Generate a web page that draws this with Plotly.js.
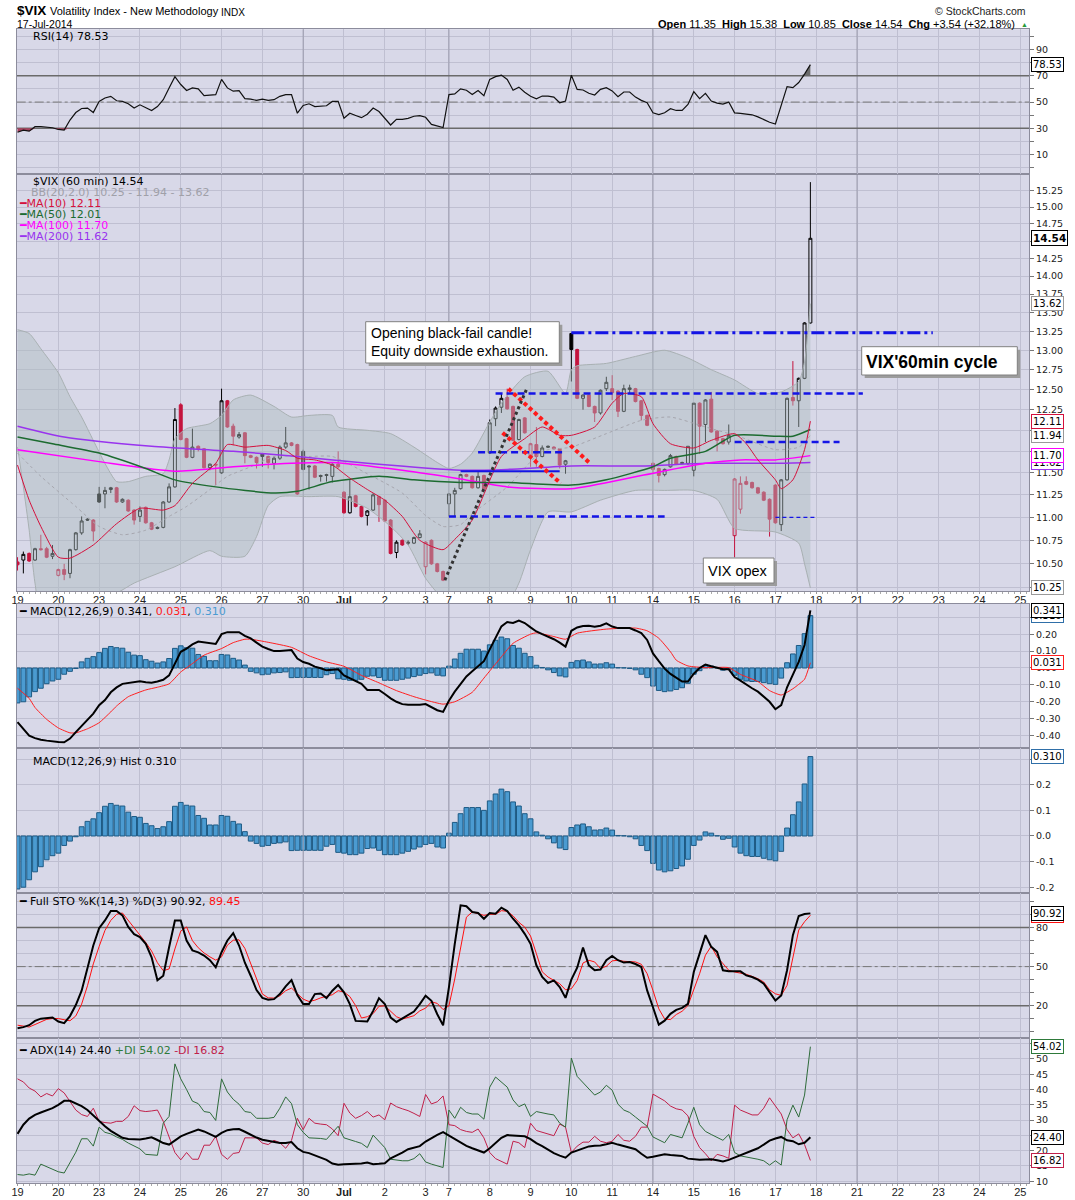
<!DOCTYPE html>
<html><head><meta charset="utf-8">
<script src="https://cdn.plot.ly/plotly-3.0.1.min.js"></script>
<style>html,body{margin:0;padding:0;background:#fff}#chart{width:1075px;height:1200px}</style>
</head><body><div id="chart"></div>
<script>
// ===================== DATA =====================
// x = hourly bar index (7 bars per session, Jul 3 half session = 4 bars)
const dayIdx    = [0,7,14,21,28,35,42,49,56,63,70,74,81,88,95,102,109,116,123,130,137,144,151,158,165,172];
const dayLabels = ['19','20','23','24','25','26','27','30','<b>Jul</b>','2','3','7','8','9','10','11','14','15','16','17','18','21','22','23','24','25'];
const weekStarts = [49,74,109,144];

const open = [
 10.52,10.54,10.61,10.54,10.66,10.66,10.58,
 10.38,10.44,10.40,10.65,10.83,10.98,10.97,
 11.26,11.26,11.31,11.33,11.17,11.19,11.08,
 11.01,11.11,10.94,10.89,10.89,11.17,11.34,
 12.31,11.90,11.68,11.81,11.78,11.56,11.60,
 11.50,12.36,12.05,11.92,11.97,11.70,11.68,
 11.72,11.69,11.61,11.67,11.80,11.85,11.83,
 11.75,11.58,11.58,11.47,11.48,11.46,11.60,
 11.28,11.05,11.24,11.12,11.02,11.08,11.23,
 11.19,10.97,10.62,10.75,10.73,10.72,10.78,
 10.47,10.75,10.50,10.42,
 11.15,11.26,11.32,11.48,11.46,11.33,11.47,
 11.73,12.14,12.28,12.40,12.29,11.89,12.15,
 11.69,11.83,11.69,11.81,11.80,11.78,11.60,
 13.22,13.01,12.39,12.43,12.29,12.21,12.51,
 12.51,12.48,12.23,12.50,12.51,12.36,12.18,
 11.61,11.55,11.48,11.57,11.69,11.62,11.61,
 11.53,12.33,12.07,12.38,11.99,11.90,11.86,
 10.80,11.09,11.40,11.39,11.33,11.28,11.20,
 11.36,10.92,11.42,12.40,12.36,12.64,13.36];
const high = [
 10.57,10.63,10.62,10.67,10.81,10.68,10.70,
 10.45,10.50,10.66,10.84,11.01,10.99,10.98,
 11.34,11.34,11.34,11.34,11.21,11.20,11.09,
 11.12,11.12,10.95,10.90,11.18,11.38,12.27,
 12.33,11.91,12.02,11.82,11.79,11.61,11.61,
 12.51,12.37,12.08,11.98,11.98,11.71,11.69,
 11.73,11.70,11.69,11.82,12.04,11.86,11.84,
 11.77,11.59,11.59,11.48,11.49,11.61,11.75,
 11.29,11.42,11.25,11.13,11.08,11.27,11.24,
 11.20,10.98,10.75,10.76,10.75,10.79,10.86,
 10.74,10.76,10.51,10.43,
 11.27,11.33,11.49,11.49,11.47,11.51,11.48,
 12.13,12.29,12.45,12.51,12.30,12.14,12.16,
 11.85,12.04,11.82,11.82,11.81,11.79,11.65,
 13.23,13.02,12.44,12.44,12.30,12.50,12.66,
 12.68,12.49,12.56,12.56,12.52,12.37,12.19,
 11.62,11.56,11.55,11.72,11.70,11.63,11.81,
 12.33,12.34,12.38,12.47,12.00,11.91,12.07,
 11.44,11.46,11.46,11.40,11.34,11.29,11.21,
 11.37,11.43,12.40,12.86,12.65,13.37,15.38];
const low = [
 10.43,10.40,10.52,10.53,10.64,10.56,10.55,
 10.37,10.33,10.35,10.64,10.81,10.96,10.74,
 11.16,11.10,11.27,11.16,11.16,11.06,10.92,
 10.95,10.93,10.86,10.87,10.88,11.16,11.33,
 11.88,11.67,11.67,11.75,11.55,11.53,11.36,
 11.49,12.03,11.82,11.90,11.61,11.67,11.55,
 11.57,11.55,11.54,11.65,11.78,11.81,11.25,
 11.53,11.31,11.44,11.40,11.40,11.39,11.55,
 11.04,11.04,11.11,11.00,10.91,11.07,10.95,
 10.95,10.60,10.56,10.69,10.70,10.71,10.77,
 10.39,10.49,10.41,10.32,
 11.01,11.01,11.31,11.45,11.32,11.32,11.31,
 11.72,12.05,12.21,12.25,11.87,11.88,11.96,
 11.57,11.57,11.68,11.79,11.77,11.55,11.49,
 12.60,12.38,12.25,12.28,12.10,12.19,12.48,
 12.37,12.16,12.22,12.45,12.34,12.12,12.05,
 11.49,11.39,11.46,11.56,11.59,11.60,11.59,
 11.46,11.72,11.86,11.97,11.75,11.83,11.83,
 10.57,11.04,11.36,11.32,11.26,11.18,10.79,
 10.93,10.85,11.41,12.30,12.04,12.63,13.35];
const close = [
 10.49,10.60,10.53,10.66,10.65,10.57,10.61,
 10.44,10.39,10.65,10.83,10.96,10.97,10.85,
 11.17,11.30,11.33,11.17,11.20,11.07,10.97,
 11.08,10.94,10.87,10.88,11.17,11.34,12.13,
 11.89,11.68,11.80,11.78,11.56,11.60,11.59,
 12.36,12.04,11.93,11.95,11.70,11.68,11.62,
 11.69,11.62,11.67,11.80,11.85,11.82,11.26,
 11.54,11.57,11.45,11.46,11.47,11.60,11.57,
 11.05,11.23,11.12,11.01,11.07,11.25,11.14,
 10.96,10.61,10.73,10.70,10.72,10.78,10.82,
 10.73,10.50,10.42,10.33,
 11.26,11.30,11.48,11.46,11.33,11.46,11.32,
 12.09,12.27,12.39,12.26,11.88,12.13,11.97,
 11.84,11.69,11.79,11.80,11.78,11.59,11.64,
 13.01,12.39,12.43,12.29,12.21,12.49,12.59,
 12.46,12.23,12.51,12.52,12.35,12.18,12.06,
 11.54,11.47,11.54,11.70,11.60,11.61,11.81,
 12.33,12.05,12.37,11.98,11.88,11.84,11.94,
 11.43,11.38,11.37,11.33,11.27,11.19,10.98,
 10.94,11.42,12.39,12.36,12.64,13.36,14.54];

// Overlays (sampled at bar indices)
const ma10X = [0,2,4,7,9,13,17,21,25,27,30,34,36,39,43,46,48,51,54,57,60,63,66,69,73,75,78,83,87,90,93,95,99,102,104,107,109,112,116,119,123,125,127,130,131,133,135,136];
const ma10Y = [11.59,11.19,10.90,10.57,10.56,10.70,10.93,11.10,11.08,11.13,11.38,11.61,11.83,11.80,11.82,11.76,11.67,11.65,11.59,11.44,11.31,11.19,11.01,10.75,10.65,10.76,10.97,11.69,11.90,12.04,11.94,11.94,12.04,12.33,12.45,12.41,12.08,11.84,11.79,11.88,11.96,11.84,11.65,11.42,11.32,11.42,11.77,12.11];
const ma50X = [0,6,14,22,27,34,44,48,54,62,68,76,84,95,101,109,112,118,123,130,133,136];
const ma50Y = [11.92,11.84,11.73,11.55,11.42,11.34,11.27,11.29,11.40,11.46,11.42,11.39,11.39,11.36,11.42,11.57,11.67,11.75,11.94,11.93,11.93,12.01];
const ma100X = [0,14,27,37,47,54,66,76,84,95,107,118,124,130,136];
const ma100Y = [11.77,11.63,11.52,11.57,11.61,11.62,11.53,11.43,11.34,11.32,11.47,11.61,11.65,11.65,11.70];
const ma200X = [0,8,23,37,48,60,76,84,95,107,118,130,136];
const ma200Y = [12.05,11.92,11.81,11.75,11.69,11.61,11.53,11.54,11.58,11.58,11.61,11.61,11.62];
const bbUpX = [0,2,4,7,9,11,13,15,17,19,22,25,26,27,29,33,35,37,40,44,47,50,54,55,60,64,68,72,74,76,78,81,83,87,91,94,95,96,101,106,111,115,119,123,127,131,134,135,136];
const bbUpY = [13.27,13.22,13.02,12.71,12.41,12.16,11.88,11.61,11.40,11.40,11.46,11.49,11.65,11.90,12.02,12.08,12.18,12.37,12.43,12.29,12.16,12.18,12.18,12.04,12.00,11.96,11.80,11.62,11.55,11.60,11.73,12.10,12.33,12.66,12.73,12.45,12.75,12.80,12.83,12.92,13.00,12.90,12.75,12.62,12.45,12.47,12.60,12.85,13.62];
const bbLoX = [0,1,2,3,4,17,20,27,33,35,39,41,43,45,50,55,60,64,67,70,72,74,84,86,88,91,95,100,106,111,116,120,123,130,134,135,136];
const bbLoY = [11.80,11.34,10.86,10.30,10.05,10.20,10.30,10.47,10.64,10.58,10.58,10.79,11.13,11.23,11.23,11.23,11.10,10.90,10.70,10.35,10.20,10.10,10.10,10.30,10.65,11.06,11.06,11.19,11.30,11.30,11.30,11.20,10.88,10.84,10.72,10.50,10.25];
const bbMidX = [0,4,10,14,18,22,26,29,33,36,40,44,50,54,60,66,70,73,76,78,84,90,95,101,107,112,118,124,130,134,136];
const bbMidY = [11.73,11.46,11.12,10.90,10.81,10.86,11.01,11.12,11.31,11.46,11.57,11.69,11.69,11.69,11.49,11.27,11.02,10.90,10.92,11.04,11.34,11.75,11.80,11.96,12.12,12.16,12.04,11.92,11.77,11.80,11.94];

const rsi = [
 27,28.6,27.8,31.2,31.2,31.0,30.4,
 29.1,28.6,36.3,42.0,45.1,45.4,42.0,
 50.5,53.1,54.4,51.0,50.5,48.7,45.4,
 47.9,45.4,43.5,46.6,51.8,60.8,69.4,
 63.4,58.8,60.8,60.1,54.9,55.2,55.7,
 67.3,60.8,58.3,58.8,52.6,52.3,51.3,
 52.3,51.3,51.8,54.4,55.7,55.7,41.5,
 47.4,48.7,46.6,46.9,47.2,50.5,50.5,
 37.6,41.5,39.8,38.1,40.7,45.4,42.8,
 37.6,32.5,36.8,36.8,37.6,39.2,39.7,
 38.4,33.0,31.9,30.6,
 55.7,56.2,60.1,59.0,55.7,58.8,54.9,
 67.3,69.4,70.6,67.3,59.0,61.4,57.5,
 54.4,52.5,54.6,54.6,53.8,49.5,50.8,
 70.5,59.7,59.2,56.7,55.4,59.7,61.0,
 58.5,54.1,57.7,57.7,53.8,51.3,49.5,
 41.8,40.5,41.8,44.9,43.6,43.6,48.2,
 57.9,52.6,56.7,50.8,49.2,48.5,50.0,
 41.8,41.3,41.0,40.3,38.7,36.5,34.6,
 33.3,47.4,61.8,61.0,64.9,71.3,78.53];

const macd = [
 -0.32,-0.36,-0.40,-0.415,-0.425,-0.43,-0.436,
 -0.438,-0.44,-0.418,-0.38,-0.344,-0.31,-0.27,
 -0.22,-0.19,-0.144,-0.115,-0.094,-0.09,-0.086,
 -0.078,-0.085,-0.088,-0.08,-0.07,-0.044,0.026,
 0.096,0.115,0.14,0.156,0.152,0.146,0.142,
 0.2,0.212,0.212,0.212,0.19,0.175,0.15,
 0.126,0.112,0.1,0.1,0.103,0.106,0.056,
 0.035,0.025,0.008,-0.002,-0.014,-0.01,-0.008,
 -0.044,-0.062,-0.08,-0.094,-0.13,-0.13,-0.13,
 -0.154,-0.18,-0.2,-0.214,-0.218,-0.22,-0.218,
 -0.214,-0.232,-0.25,-0.26,
 -0.194,-0.14,-0.094,-0.05,-0.02,0.01,0.04,
 0.11,0.18,0.246,0.272,0.266,0.28,0.266,
 0.24,0.216,0.2,0.185,0.17,0.15,0.126,
 0.22,0.24,0.248,0.25,0.244,0.25,0.264,
 0.245,0.236,0.236,0.236,0.222,0.206,0.166,
 0.086,0.04,-0.004,-0.035,-0.06,-0.08,-0.08,
 -0.034,0.0,0.02,0.01,0.0,-0.008,-0.008,
 -0.054,-0.075,-0.1,-0.12,-0.14,-0.17,-0.2,
 -0.244,-0.22,-0.114,-0.04,0.036,0.136,0.341];
const sigX = [0,2,3,5,7,9,10,12,14,16,17,19,22,24,26,28,30,32,35,37,39,40,43,47,50,53,56,59,62,65,68,70,73,75,78,80,83,85,88,89,92,94,96,101,106,108,110,112,113,115,118,122,124,127,129,131,133,134,135,136];
const sigY = [-0.12,-0.18,-0.234,-0.304,-0.355,-0.384,-0.384,-0.36,-0.324,-0.26,-0.225,-0.17,-0.13,-0.114,-0.094,-0.024,0.026,0.076,0.115,0.15,0.17,0.17,0.152,0.122,0.072,0.036,0.01,-0.044,-0.088,-0.134,-0.17,-0.19,-0.214,-0.2,-0.144,-0.06,0.066,0.146,0.2,0.208,0.186,0.17,0.206,0.23,0.236,0.22,0.176,0.096,0.046,0.012,0.002,0.002,-0.038,-0.08,-0.134,-0.16,-0.123,-0.097,-0.067,0.031];
const hist = [
 -0.207,-0.2,-0.171,-0.14,-0.12,-0.093,-0.077,
 -0.067,-0.037,-0.02,-0.003,0.036,0.057,0.067,
 0.091,0.116,0.127,0.12,0.117,0.093,0.076,
 0.073,0.049,0.04,0.029,0.036,0.056,0.116,
 0.131,0.12,0.117,0.08,0.069,0.043,0.043,
 0.08,0.077,0.057,0.047,0.017,-0.02,-0.029,
 -0.04,-0.037,-0.029,-0.027,-0.023,-0.057,-0.056,
 -0.056,-0.056,-0.056,-0.056,-0.04,-0.033,-0.064,
 -0.067,-0.073,-0.073,-0.067,-0.049,-0.047,-0.056,
 -0.073,-0.073,-0.073,-0.067,-0.06,-0.051,-0.043,
 -0.033,-0.029,-0.043,-0.047,
 0.011,0.053,0.087,0.111,0.111,0.111,0.1,
 0.137,0.164,0.183,0.173,0.133,0.117,0.087,
 0.067,0.016,0.003,-0.011,-0.027,-0.047,-0.053,
 0.033,0.043,0.047,0.036,0.023,0.024,0.031,
 0.023,0.002,0.001,-0.003,-0.011,-0.037,-0.057,
 -0.107,-0.133,-0.14,-0.136,-0.127,-0.117,-0.091,
 -0.037,-0.016,0.016,0.011,0.001,-0.013,-0.009,
 -0.043,-0.067,-0.077,-0.08,-0.08,-0.087,-0.093,
 -0.097,-0.06,0.031,0.083,0.133,0.203,0.31];

const stoK = [
 2.6,3.5,5.0,8.3,10.0,10.6,10.9,
 7.8,6.5,12,20.5,31.5,49.5,66.2,
 79.6,85.5,92.7,92.7,89.4,80.5,75,
 72.7,67.5,57.2,39.5,43.0,64.9,85.5,
 85.5,70,62.5,61,58.5,55,49.5,
 61.1,70.1,75.8,66.2,53,43,32,
 26,24.5,25,28.9,34.8,39.7,28.1,
 21.2,21.2,28.9,29.4,25.8,31.5,35.8,
 30.2,21.2,8.3,8,7.8,16.0,25.8,
 21.2,10.9,7.5,10.3,12.9,15.5,21.2,
 27.6,23.7,13.4,4.9,
 34.0,67.5,97.1,96.4,92.0,91.2,86.8,
 91.2,90.7,95.3,92.7,86.8,81.7,75.2,
 67.5,51,42,37.4,39.4,34.3,26.0,
 40.0,49.2,64.7,51.0,47.2,47.7,54.9,
 58.2,54.9,53.1,53.5,52,49.7,31.7,
 18.8,5.4,8.5,13.7,16.8,18.3,21.4,
 45.9,60.0,74.2,65.2,61.3,47.2,46.4,
 46.4,46.4,43.3,42.0,40.0,36.9,30.4,
 24.0,27.9,47.2,74.2,88.9,90.4,90.92];
const stoD = [
 5.0,4.2,3.6,5.5,7.5,9.5,10.1,
 10.1,9.2,8.4,12.1,21.2,35.3,52.1,
 65.5,77.8,85.5,90.2,91.2,85.5,80,
 75,68.5,62,53,46.9,48.2,63.6,
 77.3,80.5,70,64.5,60.5,57.5,55,
 57.5,66.5,70.3,70.6,64,52,40,
 29,26,25.8,27.6,31.5,33.5,29.5,
 25,23.2,24.2,26,27.5,28.4,31.5,
 30.5,27,20,10.5,11.5,13.9,19.5,
 19.9,16,11.5,9.7,10.9,12.3,16,
 18.1,23,21.7,17,
 19.9,40.5,65,88,92,90.5,89.4,
 90.2,90.2,93.0,92.5,89,84,80.4,
 73.5,60,46,42,39.4,36.9,32.2,
 33.0,39.4,52.8,54.9,53.6,48.5,50.3,
 54.4,54.9,54.1,53.6,53.6,51.8,44.6,
 31.7,17.6,9.8,9.3,13.2,15.7,20.1,
 31.7,44.6,58.8,65.7,57.5,52.3,47.2,
 45.9,45.1,44.1,42.5,40.7,38.2,32.2,
 29.1,27.9,35.6,57.5,78.1,84.5,89.45];

const adx = [
 25.5,28.5,30.5,31.7,32.5,33.3,33.9,
 35,36.3,36.3,35.5,34.6,33.3,31.5,
 29.8,28,26.5,25.3,24.2,23.8,23.7,
 23.7,24,24.4,23.5,22.5,22.0,23.5,
 24.7,25.5,26.3,26.9,26.3,25.3,24.5,
 25.8,26.7,27,27.1,26.2,25.2,24.3,
 23.6,23.2,22.8,22.5,22.5,22.8,20.8,
 19.6,19.2,18.5,17.8,17,15.8,15.4,
 15.6,15.6,15.6,15.8,16.1,15.6,15.7,
 15.9,17.5,18.4,19.4,20.5,20.9,21.5,
 23,24.2,25.2,26.1,
 25,23.7,22.8,21.6,20.8,20,19.4,
 20.8,22.6,24.2,25.1,25,24.9,24.7,
 23.8,22.5,21.5,20.3,19.2,18.4,17.7,
 19.4,20.1,20.7,21.4,21.6,21.7,22.1,
 22.6,22,21.5,21.2,20.5,19,17.7,
 18,18.5,18.8,18.6,18.4,18.3,17.4,
 17.2,17.0,17.1,17.2,16.9,16.5,17,
 17.8,18.5,19.3,20,20.8,22,23.3,
 24,24.5,23.4,23.1,22.1,22.6,24.40];
const plusDI = [
 12.2,12.0,12.4,12.0,15.6,14.8,14.0,
 13.1,12.7,16.0,19.5,23.9,23.9,21.5,
 27.7,26.0,25.5,24.5,23.7,22.5,21.5,
 20.6,18.8,18.6,18.5,29.0,31.2,48.4,
 43.5,40,36.2,35.4,32.8,32.5,29.9,
 43.5,39.2,36.8,35.2,32.8,32.5,30.6,
 30.6,30.6,30.9,33.9,37.6,35.4,28.5,
 26.0,24.2,24.2,24.0,23.7,25.8,28.0,
 24.2,23.7,23,22.4,21.0,25.1,23.1,
 21.0,17.2,16.9,16.7,16.7,17.4,19.0,
 16.3,15.6,15.0,14.5,
 33.3,30.6,34.2,32.5,32.0,32.0,30.3,
 40.8,44.1,42.3,40.8,36.6,34.4,35.3,
 31.2,32.8,32.3,32.0,31.7,29.0,27.7,
 50.3,44.3,42.2,40.2,38.2,39.2,41.4,
 39.8,35.2,33.3,32.5,31,29.6,28.0,
 24.5,23.5,22.6,25.3,24.7,24.2,29.0,
 34.2,28.5,26.3,25.3,24.4,23.4,25.3,
 19.4,18.3,18.0,17.7,17.2,16.7,15.3,
 16.7,15.3,30.1,34.9,31.0,38.2,54.02];
const minusDI = [
 43.5,42.5,40.5,39.5,37.6,38.7,37.9,
 40.3,38.9,36.0,33.3,31.8,31.2,33.9,
 29.6,29.2,29.0,29.6,29.6,31.2,34.7,
 33.1,32.8,33,33.3,29.6,24.7,19.4,
 17.0,19.4,17.2,17.2,21.8,21.8,24.7,
 18.8,17.2,19.1,19.4,24.2,24.2,24.2,
 22.5,22.0,23.4,22.6,20.8,23.4,30.6,
 26.9,30.6,29.0,28.7,28.5,27.1,24.9,
 35.5,32.3,30.6,31.5,32.8,31.0,31.7,
 30.1,35.6,34.4,33.7,33.1,32.2,31.2,
 38.4,35.3,36.0,37.9,
 28.5,28.2,26.9,26.3,26.0,27.1,24.2,
 19.4,17.4,16.5,15.6,23.1,22.6,21.0,
 29.0,26.6,26,25.5,24.9,28.7,27.7,
 19.4,21.5,22.8,22.8,24.7,23.1,22.6,
 23.1,25.3,23.4,23.1,24.7,27.7,27.7,
 38.5,37.5,36.3,34.6,33.7,33.3,31.4,
 24.7,21.0,19.0,16.7,18.8,18.3,17.5,
 34.9,33.3,32.5,31.7,31.7,33.9,37.3,
 34.6,32.0,26.9,24.2,25.5,22.0,16.82];

// Last-value tags shown on the right edge
const lastVals = {rsi:78.53, close:14.54, bbUp:13.62, ma10:12.11, ma50:12.01, bbMid:11.94, ma100:11.70, ma200:11.62, bbLo:10.25,
  macd:0.341, sig:0.031, hist:0.310, k:90.92, d:89.45, adx:24.40, pdi:54.02, mdi:16.82};

// Axis tick values
const priceTicks = [10.25,10.5,10.75,11,11.25,11.5,11.75,12,12.25,12.5,12.75,13,13.25,13.5,13.75,14,14.25,14.5,14.75,15,15.25];
const macdTicks = [-0.4,-0.3,-0.2,-0.1,0,0.1,0.2,0.3];
const histTicks = [-0.2,-0.1,0,0.1,0.2,0.3];
const tenTicks = [0,10,20,30,40,50,60,70,80,90,100];
const adxTicks = [10,15,20,25,30,35,40,45,50,55];

// Hand-drawn annotation lines on the price panel (bar index / price)
const drawn = [
 {x:[95,157], y:[13.23,13.23], c:'#1414e6', w:3,   d:'13px,4px,3px,4px'},
 {x:[82,145], y:[12.45,12.45], c:'#1414e6', w:2.5, d:'7px,4px'},
 {x:[79,94],  y:[11.74,11.74], c:'#1414e6', w:2.5, d:'7px,4px'},
 {x:[76,93],  y:[11.52,11.52], c:'#1414e6', w:2,   d:'solid'},
 {x:[74,111], y:[11.01,11.01], c:'#1414e6', w:2.5, d:'7px,4px'},
 {x:[123,141],y:[11.86,11.86], c:'#1414e6', w:2.5, d:'7px,4px'},
 {x:[130,137],y:[11.00,11.00], c:'#1414e6', w:1.2, d:'4px,3px'},
 {x:[84.2,98.2], y:[12.51,11.61], c:'#ff1a1a', w:4, d:'4px,3px'},
 {x:[83.2,93.2], y:[11.97,11.38], c:'#ff1a1a', w:4, d:'4px,3px'},
 {x:[73.3,87.3], y:[10.33,12.50], c:'#333333', w:3, d:'3px,3px'}
];

// ===================== CHART =====================
const W = 1075, H = 1200;
const GRID = '#bfbfd1', BORDER = '#8c8c9c', BG = '#d8d8e8';
const FONT = 'DejaVu Sans, Verdana, sans-serif';
const ARIAL = 'Liberation Sans, Arial, sans-serif';
const X0 = 16.7, X1 = 1029;
const XR = [-0.14, 173.5];
const xDomain = [X0 / W, X1 / W];
const P = {rsi:[29.2,173.5], price:[173.5,591], macd:[603.6,748.4], hist:[748.4,892.7], sto:[892.7,1038.2], adx:[1038.2,1183.4]};
const dom = p => [1 - p[1] / H, 1 - p[0] / H];
const N = close.length;
const bars = Array.from({length: N}, (_, i) => i);

function xax(anchor, labels) {
  const a = {domain: xDomain, range: XR, anchor, tickmode: 'array', tickvals: dayIdx, ticktext: dayLabels,
    showticklabels: labels, showgrid: true, gridcolor: GRID, gridwidth: 1, zeroline: false,
    showline: true, mirror: true, linecolor: BORDER, linewidth: 1,
    ticks: labels ? 'outside' : '', ticklen: labels ? 2 : 0, tickcolor: '#999',
    tickfont: {family: ARIAL, size: 11, color: '#222'}, fixedrange: true};
  if (labels) {
    a.minor = {ticks: 'outside', ticklen: 2, tick0: 0, dtick: 1, tickcolor: '#aaa', showgrid: false};
    a.ticklabelstandoff = anchor === 'y' ? -3 : -4;
  }
  return a;
}
function yax(p, anchor, range, tickvals, ticktext, extra) {
  return Object.assign({domain: dom(p), anchor, range, side: 'right', tickmode: 'array', tickvals, ticktext,
    showgrid: true, gridcolor: GRID, gridwidth: 1, zeroline: false, showline: true, mirror: true,
    linecolor: BORDER, linewidth: 1, ticks: 'outside', ticklen: 4, tickcolor: '#777',
    tickfont: {family: FONT, size: 9.5, color: '#222'}, fixedrange: true}, extra || {});
}

const traces = [];
const subplots = [['x','y',[10,16]],['x2','y2',[-10,110]],['x3','y3',[-1,1]],['x4','y4',[-1,1]],['x5','y5',[-10,110]],['x6','y6',[0,70]]];
// darker weekly separators (drawn first, under everything)
subplots.forEach(([xr, yr, ext]) => {
  const xs = [], ys = [];
  weekStarts.forEach(w => { xs.push(w, w, null); ys.push(ext[0], ext[1], null); });
  traces.push({type:'scatter', mode:'lines', x:xs, y:ys, xaxis:xr, yaxis:yr, line:{color:'#9b9bad', width:1}, hoverinfo:'skip', connectgaps:false});
});
function refLine(xr, yr, v, dash, color, width) {
  traces.push({type:'scatter', mode:'lines', x:XR, y:[v, v], xaxis:xr, yaxis:yr, line:{color, width, dash}, hoverinfo:'skip'});
}

// Bollinger band
traces.push({type:'scatter', mode:'lines', x:bbUpX, y:bbUpY, xaxis:'x', yaxis:'y', line:{color:'#a8b0b2', width:1, shape:'spline', smoothing:0.6}, hoverinfo:'skip'});
traces.push({type:'scatter', mode:'lines', x:bbLoX, y:bbLoY, xaxis:'x', yaxis:'y', line:{color:'#a8b0b2', width:1, shape:'spline', smoothing:0.6}, fill:'tonexty', fillcolor:'rgba(172,188,190,0.45)', hoverinfo:'skip'});
traces.push({type:'scatter', mode:'lines', x:bbMidX, y:bbMidY, xaxis:'x', yaxis:'y', line:{color:'#a6a6ae', width:1, dash:'dot', shape:'spline', smoothing:0.6}, hoverinfo:'skip'});

// Candles: hollow = close >= open ; red = close < previous close
const groups = {hb:[], hr:[], fb:[], fr:[]};
for (let i = 0; i < N; i++) {
  const up = close[i] >= open[i];
  const prev = i > 0 ? close[i-1] : open[i];
  const red = close[i] < prev;
  groups[(up ? 'h' : 'f') + (red ? 'r' : 'b')].push(i);
}
const RED = '#c4143e';
const cstyle = {hb:['#000', 'rgba(0,0,0,0)'], hr:[RED, 'rgba(0,0,0,0)'], fb:['#000','#000'], fr:[RED, RED]};
Object.keys(groups).forEach(k => {
  const idx = groups[k];
  if (!idx.length) return;
  const st = {line:{color:cstyle[k][0], width:1}, fillcolor:cstyle[k][1]};
  traces.push({type:'candlestick', x:idx, open:idx.map(i=>open[i]), high:idx.map(i=>high[i]), low:idx.map(i=>low[i]), close:idx.map(i=>close[i]),
    xaxis:'x', yaxis:'y', increasing:st, decreasing:st, whiskerwidth:0, hoverinfo:'skip'});
});
// Moving averages
traces.push({type:'scatter', mode:'lines', x:ma200X, y:ma200Y, xaxis:'x', yaxis:'y', line:{color:'#9933ee', width:1.5, shape:'spline', smoothing:0.6}, hoverinfo:'skip'});
traces.push({type:'scatter', mode:'lines', x:ma100X, y:ma100Y, xaxis:'x', yaxis:'y', line:{color:'#ff00ff', width:1.5, shape:'spline', smoothing:0.6}, hoverinfo:'skip'});
traces.push({type:'scatter', mode:'lines', x:ma50X, y:ma50Y, xaxis:'x', yaxis:'y', line:{color:'#1c6b30', width:1.5, shape:'spline', smoothing:0.6}, hoverinfo:'skip'});
traces.push({type:'scatter', mode:'lines', x:ma10X, y:ma10Y, xaxis:'x', yaxis:'y', line:{color:'#d4103c', width:1, shape:'spline', smoothing:0.6}, hoverinfo:'skip'});
// Drawn lines
drawn.forEach(d => traces.push({type:'scatter', mode:'lines', x:d.x, y:d.y, xaxis:'x', yaxis:'y', line:{color:d.c, width:d.w, dash:d.d}, hoverinfo:'skip'}));

// RSI reference lines + fills beyond 30 / 70
refLine('x2','y2',70,'solid','#6a6a6a',1.5); refLine('x2','y2',30,'solid','#6a6a6a',1.5); refLine('x2','y2',50,'dashdot','#777',1);
traces.push({type:'scatter', mode:'lines', x:bars, y:bars.map(()=>30), xaxis:'x2', yaxis:'y2', line:{width:0, color:'rgba(0,0,0,0)'}, hoverinfo:'skip'});
traces.push({type:'scatter', mode:'lines', x:bars, y:rsi.map(v=>Math.min(v,30)), xaxis:'x2', yaxis:'y2', line:{width:0, color:'rgba(0,0,0,0)'}, fill:'tonexty', fillcolor:'#a8405e', hoverinfo:'skip'});
traces.push({type:'scatter', mode:'lines', x:bars, y:bars.map(()=>70), xaxis:'x2', yaxis:'y2', line:{width:0, color:'rgba(0,0,0,0)'}, hoverinfo:'skip'});
traces.push({type:'scatter', mode:'lines', x:bars, y:rsi.map(v=>Math.max(v,70)), xaxis:'x2', yaxis:'y2', line:{width:0, color:'rgba(0,0,0,0)'}, fill:'tonexty', fillcolor:'#6c6c6c', hoverinfo:'skip'});
traces.push({type:'scatter', mode:'lines', x:bars, y:rsi, xaxis:'x2', yaxis:'y2', line:{color:'#111', width:1.2}, hoverinfo:'skip'});

// MACD
const histMarker = {color:'#4b9bd1', line:{color:'#1d5a84', width:1}};
traces.push({type:'bar', x:bars, y:hist, xaxis:'x3', yaxis:'y3', marker:histMarker, width:0.82, hoverinfo:'skip'});
traces.push({type:'scatter', mode:'lines', x:sigX, y:sigY, xaxis:'x3', yaxis:'y3', line:{color:'#ff2020', width:1, shape:'spline', smoothing:0.5}, hoverinfo:'skip'});
traces.push({type:'scatter', mode:'lines', x:bars, y:macd, xaxis:'x3', yaxis:'y3', line:{color:'#000', width:2}, hoverinfo:'skip'});
// Histogram panel
traces.push({type:'bar', x:bars, y:hist, xaxis:'x4', yaxis:'y4', marker:histMarker, width:0.82, hoverinfo:'skip'});
// Full STO
refLine('x5','y5',80,'solid','#6a6a6a',1.5); refLine('x5','y5',20,'solid','#6a6a6a',1.5); refLine('x5','y5',50,'dashdot','#777',1);
traces.push({type:'scatter', mode:'lines', x:bars, y:stoD, xaxis:'x5', yaxis:'y5', line:{color:'#ff1010', width:1}, hoverinfo:'skip'});
traces.push({type:'scatter', mode:'lines', x:bars, y:stoK, xaxis:'x5', yaxis:'y5', line:{color:'#000', width:2}, hoverinfo:'skip'});
// ADX
traces.push({type:'scatter', mode:'lines', x:bars, y:minusDI, xaxis:'x6', yaxis:'y6', line:{color:'#c0204a', width:1}, hoverinfo:'skip'});
traces.push({type:'scatter', mode:'lines', x:bars, y:plusDI, xaxis:'x6', yaxis:'y6', line:{color:'#2e6b3a', width:1}, hoverinfo:'skip'});
traces.push({type:'scatter', mode:'lines', x:bars, y:adx, xaxis:'x6', yaxis:'y6', line:{color:'#000', width:2}, hoverinfo:'skip'});

// ---- shapes: annotation boxes with drop shadow ----
const shapes = [];
function pbox(x0, y0, x1, y1) {
  shapes.push({type:'rect', xref:'paper', yref:'paper', x0:(x0+3)/W, x1:(x1+3)/W, y0:1-(y1+3)/H, y1:1-(y0+3)/H, fillcolor:'#9c9c9c', line:{width:0}, layer:'above'});
  shapes.push({type:'rect', xref:'paper', yref:'paper', x0:x0/W, x1:x1/W, y0:1-y1/H, y1:1-y0/H, fillcolor:'#ffffff', line:{color:'#808080', width:1}, layer:'above'});
}
pbox(365.7, 321.7, 559.3, 363);
pbox(861.7, 346.7, 1017.3, 375);
pbox(703.3, 558, 774, 583);

// ---- annotations ----
const ann = [];
function txt(x, y, text, font, extra) {
  ann.push(Object.assign({xref:'paper', yref:'paper', x:x/W, y:1-y/H, text, showarrow:false, xanchor:'left', yanchor:'middle', font}, extra || {}));
}
const f = (size, color, family) => ({family: family || FONT, size, color: color || '#000'});
// header
txt(15, 11, '<b>$VIX</b>', f(13.5, '#000', ARIAL));
txt(48, 11.5, 'Volatility Index - New Methodology', f(11, '#000', ARIAL));
txt(219, 12, 'INDX', f(10, '#000', ARIAL));
txt(15, 24, '17-Jul-2014', f(10.5, '#000', ARIAL));
txt(1028, 10.5, '\u00a9 StockCharts.com', f(10.5, '#222', ARIAL), {xanchor:'right'});
txt(1017, 24, '<b>Open</b> 11.35\u00a0 <b>High</b> 15.38\u00a0 <b>Low</b> 10.85\u00a0 <b>Close</b> 14.54\u00a0 <b>Chg</b> +3.54 (+32.18%)', f(11, '#000', ARIAL), {xanchor:'right'});
txt(1019, 24, '\u25B2', f(7, '#2a9a3a', ARIAL));
// panel legends
txt(31, 36.5, 'RSI(14) ' + lastVals.rsi.toFixed(2), f(11));
txt(31, 181.5, '$VIX (60 min) ' + lastVals.close.toFixed(2), f(11));
txt(29, 192.5, 'BB(20,2.0) ' + lastVals.bbLo.toFixed(2) + ' - ' + lastVals.bbMid.toFixed(2) + ' - ' + lastVals.bbUp.toFixed(2), f(11, '#a0a0a8'));
txt(17, 203.5, '\u2501MA(10) ' + lastVals.ma10.toFixed(2), f(11, '#d4103c'));
txt(17, 214.5, '\u2501MA(50) ' + lastVals.ma50.toFixed(2), f(11, '#1c6b30'));
txt(17, 225.5, '\u2501MA(100) ' + lastVals.ma100.toFixed(2), f(11, '#ff00ff'));
txt(17, 236.5, '\u2501MA(200) ' + lastVals.ma200.toFixed(2), f(11, '#9933ee'));
txt(17, 611, '\u2501 MACD(12,26,9) ' + lastVals.macd.toFixed(3) + ', <span style="color:#ff2020">' + lastVals.sig.toFixed(3) + '</span>, <span style="color:#4b9bd1">' + lastVals.hist.toFixed(3) + '</span>', f(11));
txt(31, 761, 'MACD(12,26,9) Hist ' + lastVals.hist.toFixed(3), f(11));
txt(17, 901, '\u2501 Full STO %K(14,3) %D(3) ' + lastVals.k.toFixed(2) + ', <span style="color:#ff1010">' + lastVals.d.toFixed(2) + '</span>', f(11));
txt(17, 1050.5, '\u2501 ADX(14) ' + lastVals.adx.toFixed(2) + ' <span style="color:#2e7a3a">+DI ' + lastVals.pdi.toFixed(2) + '</span> <span style="color:#c0204a">-DI ' + lastVals.mdi.toFixed(2) + '</span>', f(11));
// text boxes
txt(368.5, 342.3, 'Opening black-fail candle!<br>Equity downside exhaustion.', f(14, '#000', ARIAL), {align:'left'});
txt(864, 361.5, '<b>VIX\'60min cycle</b>', f(17.5, '#000', ARIAL));
txt(706, 571, 'VIX opex', f(14.5, '#000', ARIAL));
// right-edge value tags
function vtag(yref, y, text, color, bold) {
  ann.push({xref:'paper', yref, x:1031/W, y, text: bold ? '<b>' + text + '</b>' : text, showarrow:false, xanchor:'left', yanchor:'middle',
    bgcolor:'#ffffff', bordercolor:color, borderwidth:1, borderpad:1, font:f(bold ? 10.5 : 10, '#000')});
}
const L = v => Math.log10(v);
vtag('y2', lastVals.rsi, lastVals.rsi.toFixed(2), '#000');
vtag('y', L(lastVals.bbLo), lastVals.bbLo.toFixed(2), '#999');
vtag('y', L(lastVals.ma200), lastVals.ma200.toFixed(2), '#9933ee');
vtag('y', L(lastVals.ma100), lastVals.ma100.toFixed(2), '#ff00ff');
vtag('y', L(lastVals.ma50), lastVals.ma50.toFixed(2), '#1c6b30');
vtag('y', L(lastVals.bbMid), lastVals.bbMid.toFixed(2), '#999');
vtag('y', L(lastVals.ma10), lastVals.ma10.toFixed(2), '#d4103c');
vtag('y', L(lastVals.bbUp), lastVals.bbUp.toFixed(2), '#999');
vtag('y', L(lastVals.close), lastVals.close.toFixed(2), '#000', true);
vtag('y3', lastVals.hist, lastVals.hist.toFixed(3), '#2f6fa8');
vtag('y3', lastVals.macd, lastVals.macd.toFixed(3), '#000');
vtag('y3', lastVals.sig, lastVals.sig.toFixed(3), '#ff2020');
vtag('y4', lastVals.hist, lastVals.hist.toFixed(3), '#2f6fa8');
vtag('y5', lastVals.d, lastVals.d.toFixed(2), '#ff1010');
vtag('y5', lastVals.k, lastVals.k.toFixed(2), '#000');
vtag('y6', lastVals.pdi, lastVals.pdi.toFixed(2), '#2e7a3a');
vtag('y6', lastVals.adx, lastVals.adx.toFixed(2), '#000');
vtag('y6', lastVals.mdi, lastVals.mdi.toFixed(2), '#c0204a');

const layout = {
  width: W, height: H, margin: {l:0, r:0, t:0, b:0}, paper_bgcolor: '#ffffff', plot_bgcolor: BG,
  showlegend: false, boxgap: 0.28, bargap: 0.1, hovermode: false,
  xaxis: Object.assign(xax('y', true), {rangeslider: {visible: false}}),
  xaxis2: xax('y2', false), xaxis3: xax('y3', false), xaxis4: xax('y4', false), xaxis5: xax('y5', false), xaxis6: xax('y6', true),
  yaxis: yax(P.price, 'x', [1.0094, 1.1907], priceTicks, priceTicks.map(v => v.toFixed(2)), {type: 'log'}),
  yaxis2: yax(P.rsi, 'x2', [-4.5, 105.6], tenTicks, tenTicks.map(v => [10,30,50,70,90].includes(v) ? String(v) : '')),
  yaxis3: yax(P.macd, 'x3', [-0.476, 0.381], macdTicks, macdTicks.map(v => v.toFixed(2))),
  yaxis4: yax(P.hist, 'x4', [-0.2215, 0.342], histTicks, histTicks.map(v => v.toFixed(1))),
  yaxis5: yax(P.sto, 'x5', [-5, 106.8], tenTicks, tenTicks.map(v => [20,50,80].includes(v) ? String(v) : '')),
  yaxis6: yax(P.adx, 'x6', [9.3, 56.8], adxTicks, adxTicks.map(v => String(v))),
  shapes, annotations: ann
};
Plotly.newPlot('chart', traces, layout, {displayModeBar: false, staticPlot: true});
</script>
</body></html>
